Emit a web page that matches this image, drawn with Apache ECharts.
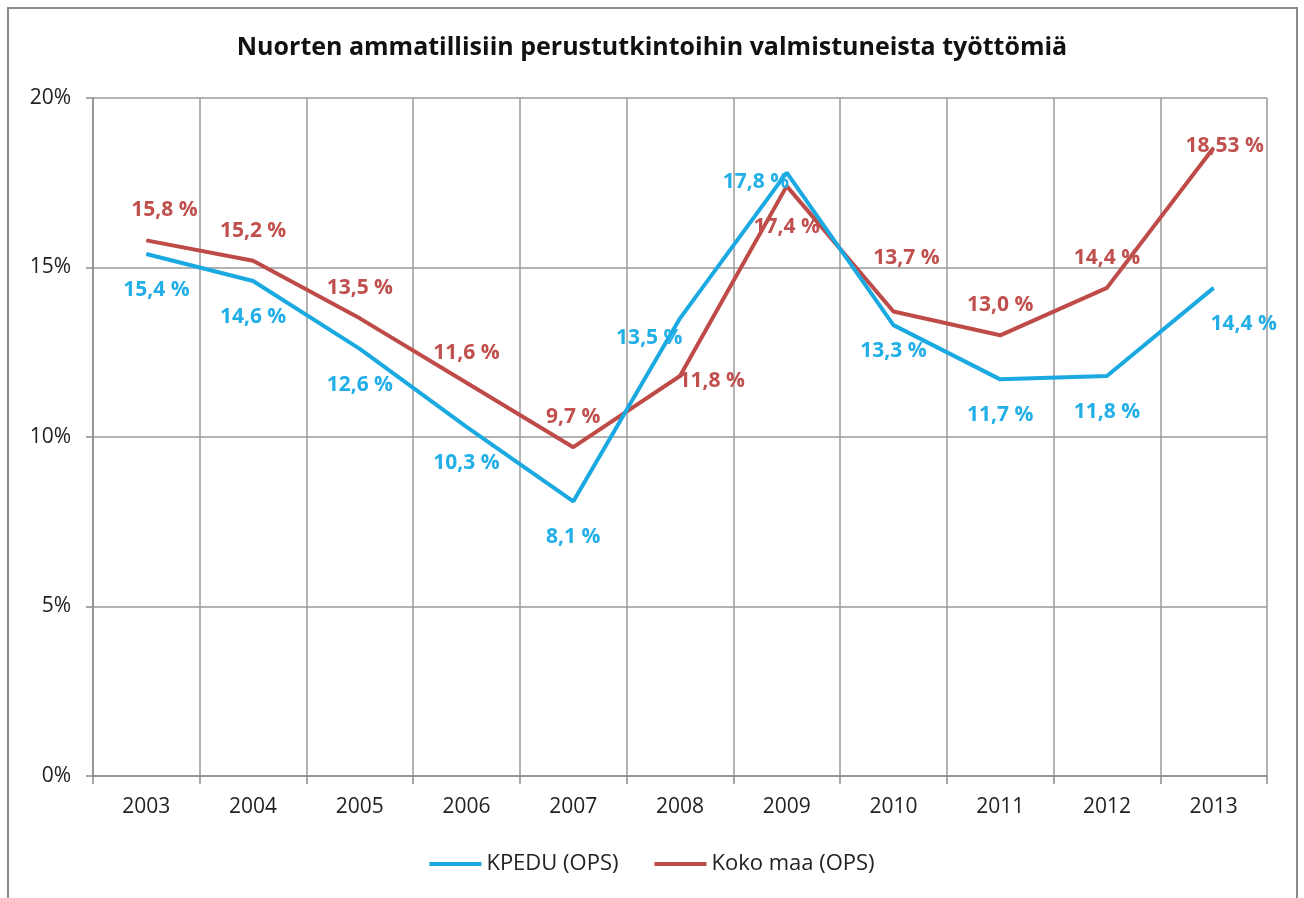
<!DOCTYPE html>
<html lang="fi">
<head>
    <meta charset="UTF-8"/>
    <title>Nuorten ammatillisiin perustutkintoihin valmistuneista työttömiä</title>
    <script src="https://cdn.jsdelivr.net/npm/echarts@6/dist/echarts.min.js"></script>
    <style>
        html, body { margin: 0; padding: 0; background: #fff; }
        #chart { width: 1304px; height: 898px; }
    </style>
</head>
<body>
<div id="chart"></div>
<script type="text/javascript">
    // data
    var years = ['2003', '2004', '2005', '2006', '2007', '2008', '2009', '2010', '2011', '2012', '2013'];
    var kpedu = [15.4, 14.6, 12.6, 10.3, 8.1, 13.5, 17.8, 13.3, 11.7, 11.8, 14.4];
    var kokoMaa = [15.8, 15.2, 13.5, 11.6, 9.7, 11.8, 17.4, 13.7, 13.0, 14.4, 18.53];
    var yTicks = [0, 5, 10, 15, 20];

    var blue = '#1aa9e1';
    var red = '#be4b48';
    var font = '"Open Sans", sans-serif';

    // 15.4 -> "15,4 %", 13 -> "13,0 %"
    function fiPct(v) {
        var s = String(v);
        if (s.indexOf('.') < 0) s += '.0';
        return s.replace('.', ',') + ' %';
    }

    function labelStyle(color, pos, dist) {
        return {
            show: true,
            position: pos,
            distance: dist,
            color: color,
            fontFamily: font,
            fontSize: 21,
            fontWeight: 'bold',
            formatter: function (p) { return fiPct(p.value); }
        };
    }

    // a few labels were moved by hand in the original
    var blueData = kpedu.map(function (v, i) {
        var item = { value: v };
        if (i === 0) item.label = { offset: [10, 0] };
        if (i === 5) item.label = { position: 'left', distance: 2, offset: [5, 20] };
        if (i === 6) item.label = { position: 'left', distance: 2, offset: [5, 9] };
        if (i === 7) item.label = { offset: [0, -10] };
        if (i === 10) item.label = { offset: [30, 0] };
        return item;
    });
    var redData = kokoMaa.map(function (v, i) {
        var item = { value: v };
        if (i === 0) item.label = { offset: [18, 0] };
        if (i === 5) item.label = { position: 'right', distance: 2, offset: [-4, 5] };
        if (i === 6) item.label = { position: 'bottom', distance: 30 };
        if (i === 7) item.label = { offset: [13, -24] };
        if (i === 10) item.label = { offset: [11, 28] };
        return item;
    });

    var myChart = echarts.init(document.getElementById('chart'));
    var option = {
        backgroundColor: '#fff',
        animation: false,
        title: {
            text: 'Nuorten ammatillisiin perustutkintoihin valmistuneista työttömiä',
            left: 'center',
            top: 30,
            textStyle: { fontFamily: font, fontSize: 25, fontWeight: 'bold', color: '#111' }
        },
        graphic: [{
            type: 'rect',
            shape: { x: 8, y: 8, width: 1289, height: 900 },
            style: { fill: 'none', stroke: '#8a8a8a', lineWidth: 2 },
            silent: true
        }],
        legend: {
            bottom: 18,
            left: 'center',
            itemWidth: 52,
            itemHeight: 4,
            itemGap: 36,
            icon: 'rect',
            textStyle: { fontFamily: font, fontSize: 22, color: '#222', padding: [0, 0, 0, 0] },
            data: ['KPEDU (OPS)', 'Koko maa (OPS)']
        },
        grid: { left: 93, right: 37, top: 98, bottom: 122 },
        xAxis: {
            type: 'category',
            data: years,
            boundaryGap: true,
            axisLine: { lineStyle: { color: '#8c8c8c', width: 1.5 } },
            axisTick: { show: true, length: 8, lineStyle: { color: '#8c8c8c', width: 1.5 } },
            axisLabel: { fontFamily: font, fontSize: 21, color: '#222', margin: 21 },
            splitLine: { show: true, lineStyle: { color: '#9a9a9a', width: 1.5 } }
        },
        yAxis: {
            type: 'value',
            min: yTicks[0],
            max: yTicks[yTicks.length - 1],
            interval: yTicks[1] - yTicks[0],
            axisLine: { show: true, lineStyle: { color: '#8c8c8c', width: 1.5 } },
            axisTick: { show: true, length: 7, lineStyle: { color: '#8c8c8c', width: 1.5 } },
            axisLabel: { fontFamily: font, fontSize: 21, color: '#222', margin: 22, formatter: '{value}%' },
            splitLine: { show: true, lineStyle: { color: '#9a9a9a', width: 1.5 } }
        },
        series: [
            {
                name: 'KPEDU (OPS)',
                type: 'line',
                data: blueData,
                showSymbol: true,
                symbol: 'circle',
                symbolSize: 1,
                itemStyle: { color: blue },
                color: blue,
                lineStyle: { color: blue, width: 4 },
                label: labelStyle('#22aee6', 'bottom', 25),
                z: 3
            },
            {
                name: 'Koko maa (OPS)',
                type: 'line',
                data: redData,
                showSymbol: true,
                symbol: 'circle',
                symbolSize: 1,
                itemStyle: { color: red },
                color: red,
                lineStyle: { color: red, width: 4 },
                label: labelStyle('#c0504d', 'top', 19),
                z: 2
            }
        ]
    };
    myChart.setOption(option);
</script>
</body>
</html>
